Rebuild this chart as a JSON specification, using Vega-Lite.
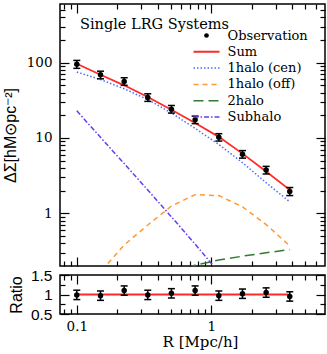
{
  "$schema": "https://vega.github.io/schema/vega-lite/v6.json",
  "padding": {"left": 1, "right": 2, "top": 2, "bottom": 0},
  "background": "white",
  "spacing": 9,
  "bounds": "flush",
  "datasets": {
    "obs": [
      {"r": 0.1, "dsig": 95, "lo": 84, "hi": 107, "ratio": 0.99, "rlo": 0.87, "rhi": 1.11},
      {"r": 0.15, "dsig": 69, "lo": 61, "hi": 77, "ratio": 0.97, "rlo": 0.85, "rhi": 1.09},
      {"r": 0.225, "dsig": 56, "lo": 50, "hi": 63, "ratio": 1.1, "rlo": 0.98, "rhi": 1.22},
      {"r": 0.337, "dsig": 34.4, "lo": 30.6, "hi": 38.6, "ratio": 0.99, "rlo": 0.87, "rhi": 1.11},
      {"r": 0.505, "dsig": 24.1, "lo": 21.4, "hi": 27, "ratio": 1.03, "rlo": 0.91, "rhi": 1.15},
      {"r": 0.758, "dsig": 17.4, "lo": 15.5, "hi": 19.5, "ratio": 1.1, "rlo": 0.98, "rhi": 1.22},
      {"r": 1.137, "dsig": 10.2, "lo": 9.1, "hi": 11.4, "ratio": 0.97, "rlo": 0.85, "rhi": 1.09},
      {"r": 1.705, "dsig": 6.1, "lo": 5.4, "hi": 6.8, "ratio": 1.02, "rlo": 0.9, "rhi": 1.14},
      {"r": 2.556, "dsig": 3.75, "lo": 3.33, "hi": 4.2, "ratio": 1.05, "rlo": 0.93, "rhi": 1.17},
      {"r": 3.83, "dsig": 1.95, "lo": 1.72, "hi": 2.2, "ratio": 0.95, "rlo": 0.83, "rhi": 1.07}
    ],
    "model": [
      {"r": 0.1, "series": "Sum", "dsig": 96.6},
      {"r": 0.15, "series": "Sum", "dsig": 69},
      {"r": 0.225, "series": "Sum", "dsig": 50},
      {"r": 0.337, "series": "Sum", "dsig": 35},
      {"r": 0.505, "series": "Sum", "dsig": 23.7},
      {"r": 0.758, "series": "Sum", "dsig": 15.8},
      {"r": 1.137, "series": "Sum", "dsig": 10.35},
      {"r": 1.705, "series": "Sum", "dsig": 6.2},
      {"r": 2.556, "series": "Sum", "dsig": 3.6},
      {"r": 3.83, "series": "Sum", "dsig": 2.05},
      {"r": 0.1, "series": "1halo (cen)", "dsig": 75},
      {"r": 0.15, "series": "1halo (cen)", "dsig": 59.7},
      {"r": 0.225, "series": "1halo (cen)", "dsig": 45},
      {"r": 0.337, "series": "1halo (cen)", "dsig": 32.3},
      {"r": 0.505, "series": "1halo (cen)", "dsig": 21.5},
      {"r": 0.758, "series": "1halo (cen)", "dsig": 13.4},
      {"r": 1.137, "series": "1halo (cen)", "dsig": 8.2},
      {"r": 1.705, "series": "1halo (cen)", "dsig": 4.7},
      {"r": 2.556, "series": "1halo (cen)", "dsig": 2.55},
      {"r": 3.83, "series": "1halo (cen)", "dsig": 1.42},
      {"r": 0.1, "series": "1halo (off)", "dsig": 0.08},
      {"r": 0.15, "series": "1halo (off)", "dsig": 0.167},
      {"r": 0.225, "series": "1halo (off)", "dsig": 0.38},
      {"r": 0.337, "series": "1halo (off)", "dsig": 0.7},
      {"r": 0.505, "series": "1halo (off)", "dsig": 1.25},
      {"r": 0.758, "series": "1halo (off)", "dsig": 1.77},
      {"r": 1.137, "series": "1halo (off)", "dsig": 1.72},
      {"r": 1.705, "series": "1halo (off)", "dsig": 1.22},
      {"r": 2.556, "series": "1halo (off)", "dsig": 0.71},
      {"r": 3.83, "series": "1halo (off)", "dsig": 0.37},
      {"r": 0.505, "series": "2halo", "dsig": 0.17},
      {"r": 0.758, "series": "2halo", "dsig": 0.205},
      {"r": 1.137, "series": "2halo", "dsig": 0.24},
      {"r": 1.705, "series": "2halo", "dsig": 0.27},
      {"r": 2.556, "series": "2halo", "dsig": 0.3},
      {"r": 3.83, "series": "2halo", "dsig": 0.33},
      {"r": 0.1, "series": "Subhalo", "dsig": 22.9},
      {"r": 0.15, "series": "Subhalo", "dsig": 10.2},
      {"r": 0.225, "series": "Subhalo", "dsig": 4.57},
      {"r": 0.337, "series": "Subhalo", "dsig": 2.04},
      {"r": 0.505, "series": "Subhalo", "dsig": 0.9},
      {"r": 0.758, "series": "Subhalo", "dsig": 0.39},
      {"r": 1.137, "series": "Subhalo", "dsig": 0.165}
    ]
  },
  "vconcat": [
    {
      "width": 265,
      "height": 262,
      "title": {"text": "Single LRG Systems", "anchor": "start", "frame": "group", "offset": -29, "dx": 20, "font": "'DejaVu Serif', 'Liberation Serif', serif", "fontSize": 14.5, "fontWeight": "normal", "color": "black"},
      "resolve": {"axis": {"x": "independent", "y": "independent"}},
      "layer": [
        {
          "data": {"name": "model"},
          "transform": [{"filter": "datum.series === 'Sum'"}],
          "mark": {"type": "line", "strokeWidth": 1.8, "clip": true},
          "encoding": {
            "x": {"field": "r", "type": "quantitative", "scale": {"type": "log", "domain": [0.075, 7], "nice": false}, "axis": {"orient": "bottom", "values": [0.1, 1], "labels": false, "tickSize": -9, "title": null}},
            "y": {"field": "dsig", "type": "quantitative", "scale": {"type": "log", "domain": [0.2, 600], "nice": false}, "axis": {"orient": "left", "values": [1, 10, 100], "ticks": false, "format": "~g", "labelFontSize": 13.5, "labelPadding": 8, "title": "ΔΣ[hM⊙pc⁻²]", "titleFont": "Liberation Sans", "titleFontSize": 16, "titlePadding": 8}},
            "color": {
              "field": "series", "type": "nominal",
              "scale": {"domain": ["Observation", "Sum", "1halo (cen)", "1halo (off)", "2halo", "Subhalo"], "range": ["black", "#ff2a2a", "#4b6cff", "#ff9933", "#2e7d32", "#6a3cf0"]},
              "legend": {
                "orient": "none", "legendX": 140, "legendY": 25, "title": null,
                "labelFont": "'DejaVu Serif', 'Liberation Serif', serif", "labelFontSize": 13, "labelColor": "black",
                "labelOffset": 14.5, "rowPadding": 2.3, "symbolSize": 169, "symbolStrokeWidth": 1.5, "padding": 0,
                "encode": {
                  "symbols": {
                    "update": {
                      "shape": {"signal": "datum.value === 'Observation' ? 'circle' : 'M-2,0H2'"},
                      "size": {"signal": "datum.value === 'Observation' ? 22 : 169"},
                      "fill": {"signal": "datum.value === 'Observation' ? 'black' : 'transparent'"},
                      "stroke": {"signal": "datum.value === 'Observation' ? 'black' : datum.value === 'Sum' ? '#ff2a2a' : datum.value === '1halo (cen)' ? '#4b6cff' : datum.value === '1halo (off)' ? '#ff9933' : datum.value === '2halo' ? '#2e7d32' : '#6a3cf0'"},
                      "strokeDash": {"signal": "datum.value === '1halo (cen)' ? [1.5, 2] : datum.value === '1halo (off)' ? [5, 4] : datum.value === '2halo' ? [10, 5] : datum.value === 'Subhalo' ? [5, 2, 1.5, 2] : [1, 0]"},
                      "strokeWidth": {"signal": "datum.value === 'Sum' ? 2 : datum.value === 'Observation' ? 0 : 1.5"},
                      "opacity": {"value": 1}
                    }
                  }
                }
              }
            }
          }
        },
        {
          "data": {"name": "model"},
          "transform": [{"filter": "datum.series === '1halo (cen)'"}],
          "mark": {"type": "line", "strokeWidth": 1.5, "strokeDash": [1.5, 2], "clip": true},
          "encoding": {
            "x": {"field": "r", "type": "quantitative", "scale": {"type": "log", "domain": [0.075, 7], "nice": false}, "axis": {"orient": "bottom", "values": [0.08, 0.09, 0.2, 0.3, 0.4, 0.5, 0.6, 0.7, 0.8, 0.9, 2, 3, 4, 5, 6], "labels": false, "tickSize": -5, "title": null}},
            "y": {"field": "dsig", "type": "quantitative", "scale": {"type": "log", "domain": [0.2, 600], "nice": false}, "axis": {"orient": "left", "values": [1, 10, 100], "labels": false, "tickSize": -9, "title": null}},
            "color": {"field": "series", "type": "nominal"}
          }
        },
        {
          "data": {"name": "model"},
          "transform": [{"filter": "datum.series === '1halo (off)'"}],
          "mark": {"type": "line", "strokeWidth": 1.5, "strokeDash": [5, 4], "clip": true},
          "encoding": {
            "x": {"field": "r", "type": "quantitative", "scale": {"type": "log", "domain": [0.075, 7], "nice": false}, "axis": {"orient": "top", "values": [0.1, 1], "labels": false, "tickSize": -9, "title": null}},
            "y": {"field": "dsig", "type": "quantitative", "scale": {"type": "log", "domain": [0.2, 600], "nice": false}, "axis": {"orient": "left", "values": [0.3, 0.4, 0.5, 0.6, 0.7, 0.8, 0.9, 2, 3, 4, 5, 6, 7, 8, 9, 20, 30, 40, 50, 60, 70, 80, 90, 200, 300, 400, 500], "labels": false, "tickSize": -5, "title": null}},
            "color": {"field": "series", "type": "nominal"}
          }
        },
        {
          "data": {"name": "model"},
          "transform": [{"filter": "datum.series === '2halo'"}],
          "mark": {"type": "line", "strokeWidth": 1.5, "strokeDash": [10, 5], "clip": true},
          "encoding": {
            "x": {"field": "r", "type": "quantitative", "scale": {"type": "log", "domain": [0.075, 7], "nice": false}, "axis": {"orient": "top", "values": [0.08, 0.09, 0.2, 0.3, 0.4, 0.5, 0.6, 0.7, 0.8, 0.9, 2, 3, 4, 5, 6], "labels": false, "tickSize": -5, "title": null}},
            "y": {"field": "dsig", "type": "quantitative", "scale": {"type": "log", "domain": [0.2, 600], "nice": false}, "axis": {"orient": "right", "values": [1, 10, 100], "labels": false, "tickSize": -9, "title": null}},
            "color": {"field": "series", "type": "nominal"}
          }
        },
        {
          "data": {"name": "model"},
          "transform": [{"filter": "datum.series === 'Subhalo'"}],
          "mark": {"type": "line", "strokeWidth": 1.5, "strokeDash": [5, 2, 1.5, 2], "clip": true},
          "encoding": {
            "x": {"field": "r", "type": "quantitative", "scale": {"type": "log", "domain": [0.075, 7], "nice": false}, "axis": null},
            "y": {"field": "dsig", "type": "quantitative", "scale": {"type": "log", "domain": [0.2, 600], "nice": false}, "axis": {"orient": "right", "values": [0.3, 0.4, 0.5, 0.6, 0.7, 0.8, 0.9, 2, 3, 4, 5, 6, 7, 8, 9, 20, 30, 40, 50, 60, 70, 80, 90, 200, 300, 400, 500], "labels": false, "tickSize": -5, "title": null}},
            "color": {"field": "series", "type": "nominal"}
          }
        },
        {
          "data": {"name": "obs"},
          "mark": {"type": "rule", "color": "black", "strokeWidth": 1.5},
          "encoding": {
            "x": {"field": "r", "type": "quantitative", "scale": {"type": "log", "domain": [0.075, 7], "nice": false}, "axis": null},
            "y": {"field": "lo", "type": "quantitative", "scale": {"type": "log", "domain": [0.2, 600], "nice": false}, "axis": null},
            "y2": {"field": "hi"}
          }
        },
        {
          "data": {"name": "obs"},
          "mark": {"type": "tick", "orient": "horizontal", "size": 7, "thickness": 1.5, "color": "black", "opacity": 1},
          "encoding": {
            "x": {"field": "r", "type": "quantitative", "scale": {"type": "log", "domain": [0.075, 7], "nice": false}, "axis": null},
            "y": {"field": "lo", "type": "quantitative", "scale": {"type": "log", "domain": [0.2, 600], "nice": false}, "axis": null}
          }
        },
        {
          "data": {"name": "obs"},
          "mark": {"type": "tick", "orient": "horizontal", "size": 7, "thickness": 1.5, "color": "black", "opacity": 1},
          "encoding": {
            "x": {"field": "r", "type": "quantitative", "scale": {"type": "log", "domain": [0.075, 7], "nice": false}, "axis": null},
            "y": {"field": "hi", "type": "quantitative", "scale": {"type": "log", "domain": [0.2, 600], "nice": false}, "axis": null}
          }
        },
        {
          "data": {"name": "obs"},
          "mark": {"type": "circle", "size": 30, "color": "black", "opacity": 1},
          "encoding": {
            "x": {"field": "r", "type": "quantitative", "scale": {"type": "log", "domain": [0.075, 7], "nice": false}, "axis": null},
            "y": {"field": "dsig", "type": "quantitative", "scale": {"type": "log", "domain": [0.2, 600], "nice": false}, "axis": null}
          }
        }
      ]
    },
    {
      "width": 265,
      "height": 39,
      "data": {"name": "obs"},
      "resolve": {"axis": {"x": "independent", "y": "independent"}},
      "layer": [
        {
          "mark": {"type": "line", "color": "#ff2a2a", "strokeWidth": 1.8},
          "encoding": {
            "x": {"field": "r", "type": "quantitative", "scale": {"type": "log", "domain": [0.075, 7], "nice": false}, "axis": {"orient": "bottom", "values": [0.1, 1], "ticks": false, "format": "~g", "labelFontSize": 13.5, "labelPadding": 5, "title": "R [Mpc/h]", "titleFontSize": 15, "titleFontWeight": "normal", "titlePadding": 2, "titleX": 140}},
            "y": {"datum": 1, "type": "quantitative", "scale": {"domain": [0.5, 1.5], "nice": false, "zero": false}, "axis": {"orient": "left", "values": [0.5, 1, 1.5], "ticks": false, "format": "~g", "labelFont": "Liberation Sans", "labelFontSize": 15.5, "labelPadding": 8, "title": "Ratio", "titleFont": "Liberation Sans", "titleFontSize": 16, "titlePadding": 6}}
          }
        },
        {
          "mark": {"type": "rule", "color": "black", "strokeWidth": 1.5},
          "encoding": {
            "x": {"field": "r", "type": "quantitative", "scale": {"type": "log", "domain": [0.075, 7], "nice": false}, "axis": {"orient": "bottom", "values": [0.1, 1], "labels": false, "tickSize": -9, "title": null}},
            "y": {"field": "rlo", "type": "quantitative", "scale": {"domain": [0.5, 1.5], "nice": false, "zero": false}, "axis": {"orient": "left", "values": [0.5, 1, 1.5], "labels": false, "tickSize": -9, "title": null}},
            "y2": {"field": "rhi"}
          }
        },
        {
          "mark": {"type": "tick", "orient": "horizontal", "size": 7, "thickness": 1.5, "color": "black", "opacity": 1},
          "encoding": {
            "x": {"field": "r", "type": "quantitative", "scale": {"type": "log", "domain": [0.075, 7], "nice": false}, "axis": {"orient": "bottom", "values": [0.08, 0.09, 0.2, 0.3, 0.4, 0.5, 0.6, 0.7, 0.8, 0.9, 2, 3, 4, 5, 6], "labels": false, "tickSize": -5, "title": null}},
            "y": {"field": "rlo", "type": "quantitative", "scale": {"domain": [0.5, 1.5], "nice": false, "zero": false}, "axis": {"orient": "left", "values": [0.75, 1.25], "labels": false, "tickSize": -5, "title": null}}
          }
        },
        {
          "mark": {"type": "tick", "orient": "horizontal", "size": 7, "thickness": 1.5, "color": "black", "opacity": 1},
          "encoding": {
            "x": {"field": "r", "type": "quantitative", "scale": {"type": "log", "domain": [0.075, 7], "nice": false}, "axis": {"orient": "top", "values": [0.1, 1], "labels": false, "tickSize": -9, "title": null}},
            "y": {"field": "rhi", "type": "quantitative", "scale": {"domain": [0.5, 1.5], "nice": false, "zero": false}, "axis": {"orient": "right", "values": [0.5, 1, 1.5], "labels": false, "tickSize": -9, "title": null}}
          }
        },
        {
          "mark": {"type": "circle", "size": 30, "color": "black", "opacity": 1},
          "encoding": {
            "x": {"field": "r", "type": "quantitative", "scale": {"type": "log", "domain": [0.075, 7], "nice": false}, "axis": {"orient": "top", "values": [0.08, 0.09, 0.2, 0.3, 0.4, 0.5, 0.6, 0.7, 0.8, 0.9, 2, 3, 4, 5, 6], "labels": false, "tickSize": -5, "title": null}},
            "y": {"field": "ratio", "type": "quantitative", "scale": {"domain": [0.5, 1.5], "nice": false, "zero": false}, "axis": {"orient": "right", "values": [0.75, 1.25], "labels": false, "tickSize": -5, "title": null}}
          }
        }
      ]
    }
  ],
  "config": {
    "view": {"stroke": "black", "strokeWidth": 1.5},
    "axis": {"domain": false, "grid": false, "tickColor": "black", "tickWidth": 1.2, "labelColor": "black", "titleColor": "black", "labelFont": "'DejaVu Serif', 'Liberation Serif', serif", "labelFontSize": 13.5, "titleFont": "'DejaVu Serif', 'Liberation Serif', serif", "titleFontWeight": "normal", "labelOverlap": false, "labelFlush": false}
  }
}
